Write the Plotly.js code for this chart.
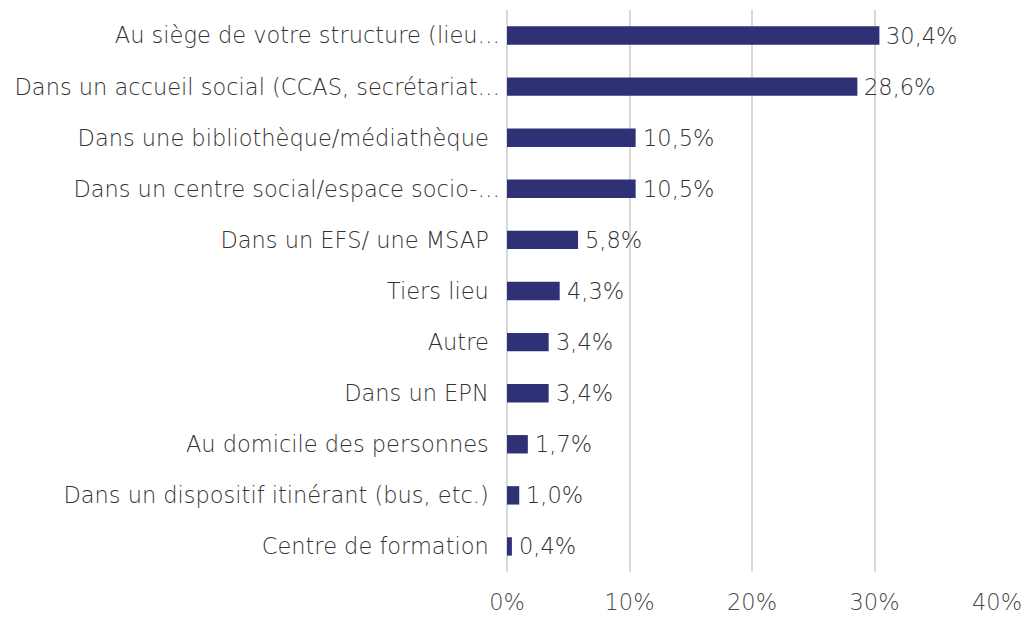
<!DOCTYPE html>
<html><head><meta charset="utf-8">
<script src="https://cdn.plot.ly/plotly-3.0.1.min.js"></script>
<style>html,body{margin:0;padding:0;background:#fff}#chart{width:1026px;height:619px}</style>
</head><body><div id="chart"></div>
<script>
const categories = [
  "Au siège de votre structure (lieu…",
  "Dans un accueil social (CCAS, secrétariat…",
  "Dans une bibliothèque/médiathèque",
  "Dans un centre social/espace socio-…",
  "Dans un EFS/ une MSAP",
  "Tiers lieu",
  "Autre",
  "Dans un EPN",
  "Au domicile des personnes",
  "Dans un dispositif itinérant (bus, etc.)",
  "Centre de formation"
];
const values = [30.4, 28.6, 10.5, 10.5, 5.8, 4.3, 3.4, 3.4, 1.7, 1.0, 0.4];
const tickVals = [0, 10, 20, 30, 40];
const tickText = ["0%", "10%", "20%", "30%", "40%"];

const labels = categories.map(c => c.endsWith("…") ? c : c + "\u2002");
const textLabels = values.map(v => v.toFixed(1).replace(".", ",") + "%");

const font = "'DejaVu Sans', sans-serif";
const annotations = values.map((v, i) => ({
  x: v, y: labels[i], xref: "x", yref: "y",
  text: textLabels[i], showarrow: false,
  xanchor: "left", yanchor: "middle", xshift: 5,
  font: {family: font, size: 22.5, color: "#333333", weight: 300}
}));

Plotly.newPlot("chart", [{
  type: "bar",
  orientation: "h",
  x: values,
  y: labels,
  marker: {color: "#2E3176"},
  hoverinfo: "none"
}], {
  width: 1026, height: 619,
  margin: {l: 507, r: 29, t: 10, b: 47},
  paper_bgcolor: "#fff", plot_bgcolor: "#fff",
  bargap: 0.64,
  showlegend: false,
  annotations: annotations,
  font: {family: font, size: 22.5, color: "#333333", weight: 300},
  xaxis: {
    range: [0, 40], tickvals: tickVals, ticktext: tickText,
    showgrid: true, gridcolor: "#d9d9d9", gridwidth: 2,
    zeroline: true, zerolinecolor: "#d9d9d9", zerolinewidth: 2,
    showline: false, ticks: "", fixedrange: true,
    ticklabelstandoff: 14,
    tickfont: {family: font, size: 22.5, color: "#4a4a4a", weight: 300}
  },
  yaxis: {
    autorange: "reversed", type: "category",
    showgrid: false, zeroline: false, showline: false, ticks: "",
    ticklabelstandoff: 6,
    tickfont: {family: font, size: 22.5, color: "#333333", weight: 300}
  }
}, {displayModeBar: false, staticPlot: true});
</script></body></html>
